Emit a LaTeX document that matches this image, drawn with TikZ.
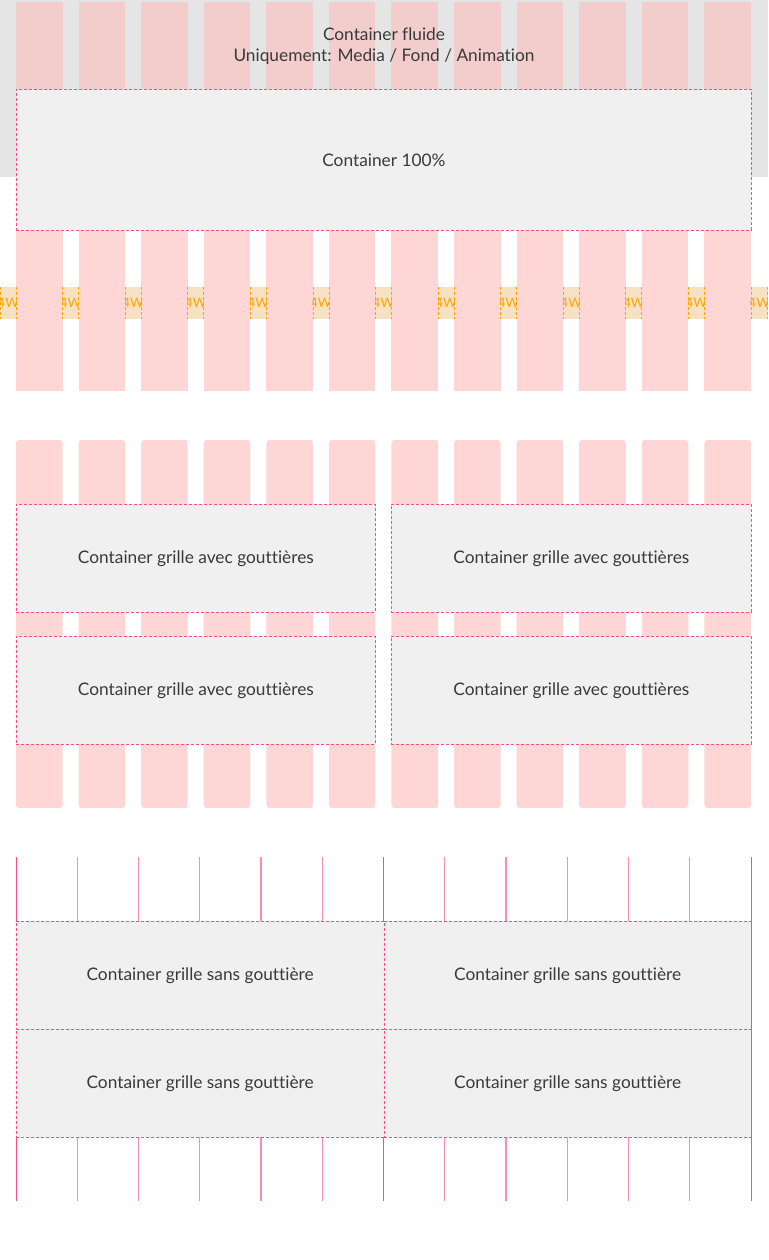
\documentclass[tikz,border=0pt]{standalone}
\usepackage{fontspec}
\setmainfont{Lato}[Ligatures=NoCommon]
\begin{document}
\begin{tikzpicture}[x=1pt,y=-1pt,
  txt/.style={text=textgrey,font=\fontsize{17.3}{20}\selectfont,inner sep=0pt},
  cbox/.style={draw=dashpink,densely dashed,line width=0.8pt,fill=boxgrey},
  gutlabel/.style={text=gutorange,font=\fontsize{13}{14}\selectfont,inner sep=0pt},
  gridline/.style={draw=linepink,line width=1pt},
  gridlinelight/.style={draw=linepinklight,line width=1.2pt}
]
\definecolor{textgrey}{HTML}{3A3A3A}
\definecolor{dashpink}{HTML}{FF4A86}
\definecolor{boxgrey}{HTML}{F0F0F0}
\definecolor{bggrey}{HTML}{E5E5E5}
\definecolor{colpinkc}{HTML}{FFD6D6}
\definecolor{colpinkdark}{HTML}{F3CCCC}
\definecolor{gutorange}{HTML}{FFA500}
\definecolor{gutfill}{HTML}{F6E1C2}
\definecolor{linepink}{HTML}{FF4A86}
\definecolor{linepinklight}{HTML}{FF8AB0}
\useasboundingbox (0,0) rectangle (768,1260);
\fill[white] (0,0) rectangle (768,1260);
% ---------- Section 1 ----------
\fill[bggrey] (0,0) rectangle (768,177);
\fill[gutfill] (0,287) rectangle (768,319);
\foreach \i in {0,...,11}{
  \pgfmathsetmacro{\xa}{16+\i*62.58}
  \pgfmathsetmacro{\xb}{\xa+46.58}
  \fill[colpinkdark] (\xa,2) rectangle (\xb,89);
  \fill[colpinkc] (\xa,230) rectangle (\xb,391);
}
% gutters
\foreach \i in {0,...,12}{
  \pgfmathsetmacro{\ga}{ifthenelse(\i==0,0.5,16+\i*62.58-16)}
  \pgfmathsetmacro{\gb}{ifthenelse(\i==12,767.5,16+\i*62.58)}
  \draw[gutorange,densely dashed,line width=0.8pt] (\ga,287) -- (\ga,319);
  \draw[gutorange,densely dashed,line width=0.8pt] (\gb,287) -- (\gb,319);
  \begin{scope}
    \clip (\ga,287) rectangle (\gb,319);
    \node[gutlabel] (g\i) at ({(\ga+\gb)/2},303) {4W};
  \end{scope}
}
\node[txt] (fl1) at (384,34) {Container fluide};
\node[txt] (fl2) at (384,57) {Uniquement: Media / Fond / Animation};
\node[cbox,minimum width=735pt,minimum height=141pt,inner sep=0pt,anchor=north west] (c100) at (16,89) {};
\node[txt] (c100t) at (c100.center) {Container 100\%};
% ---------- Section 2 ----------
\foreach \i in {0,...,11}{
  \pgfmathsetmacro{\xa}{16+\i*62.58}
  \pgfmathsetmacro{\xb}{\xa+46.58}
  \fill[colpinkc,rounded corners=3pt] (\xa,440) rectangle (\xb,808);
}
\foreach \r/\y in {a/504,b/636}{
  \node[cbox,minimum width=359pt,minimum height=108pt,inner sep=0pt,anchor=north west] (g\r l) at (16,\y) {};
  \node[txt] at (g\r l.center) {Container grille avec gouttières};
  \node[cbox,minimum width=360pt,minimum height=108pt,inner sep=0pt,anchor=north west] (g\r r) at (391,\y) {};
  \node[txt] at (g\r r.center) {Container grille avec gouttières};
}
% ---------- Section 3 ----------
\foreach \i in {1,2,3,4,5,7,8,9,10,11}{
  \pgfmathsetmacro{\xl}{16+\i*61.25}
  \draw[gridlinelight] (\xl,857) -- (\xl,1201);
}
\foreach \i in {0,6,12}{
  \pgfmathsetmacro{\xl}{16+\i*61.25}
  \draw[gridline] (\xl,857) -- (\xl,1201);
}
\foreach \r/\y in {a/921,b/1029}{
  \node[cbox,minimum width=367.5pt,minimum height=108pt,inner sep=0pt,anchor=north west] (s\r l) at (16,\y) {};
  \node[txt] at (s\r l.center) {Container grille sans gouttière};
  \node[cbox,minimum width=367.5pt,minimum height=108pt,inner sep=0pt,anchor=north west] (s\r r) at (383.5,\y) {};
  \node[txt] at (s\r r.center) {Container grille sans gouttière};
}
\end{tikzpicture}
\end{document}
